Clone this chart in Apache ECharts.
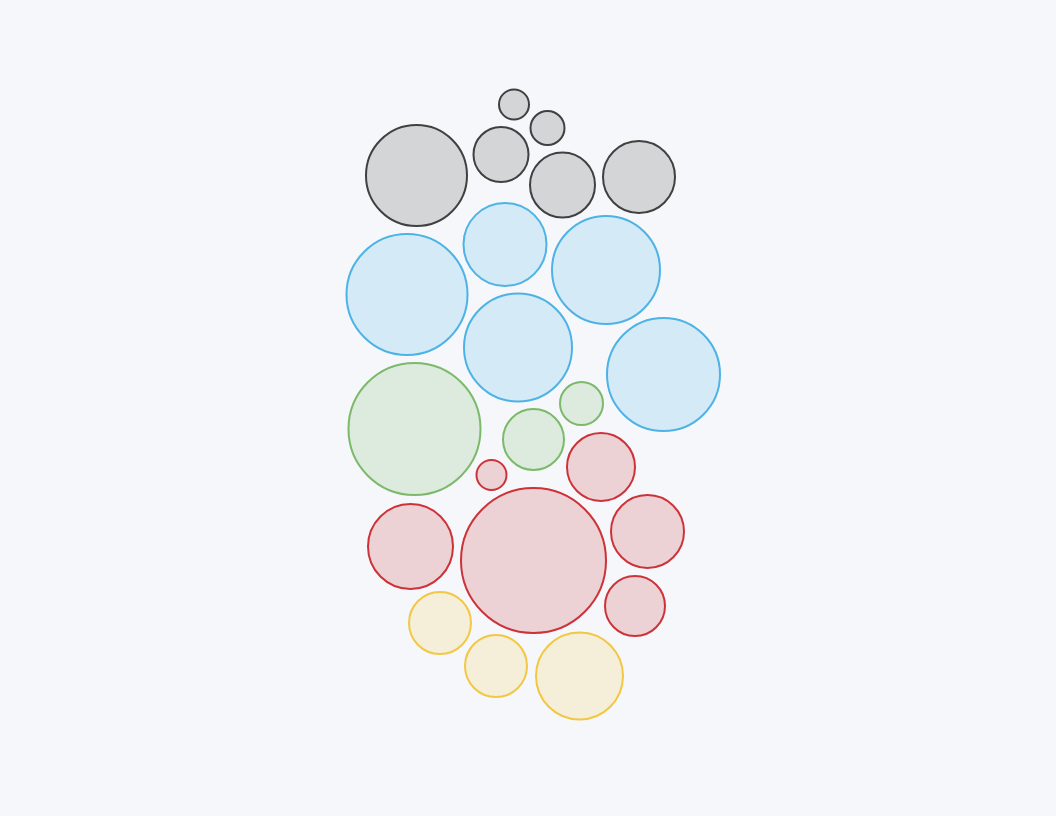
<!DOCTYPE html>
<html>
<head>
<meta charset="utf-8">
<style>
  html, body { margin: 0; padding: 0; background: #f5f7fa; }
  #chart { width: 1056px; height: 816px; }
</style>
<script src="https://cdn.jsdelivr.net/npm/echarts@6/dist/echarts.min.js"></script>
</head>
<body>
<div id="chart"></div>
<script>
// Bubble groups: [x, y, radius]
const grayBubbles = [
  [416.5, 175.5, 51.5],
  [514, 104.5, 16],
  [547.5, 128, 18],
  [501, 154.5, 28.5],
  [562.5, 185, 33.5],
  [639, 177, 37]
];
const blueBubbles = [
  [407, 294.5, 61.5],
  [505, 244.5, 42.5],
  [606, 270, 55],
  [518, 347.5, 55],
  [663.5, 374.5, 57.5]
];
const greenBubbles = [
  [414.5, 429, 67],
  [533.5, 439.5, 31.5],
  [581.5, 403.5, 22.5]
];
const redBubbles = [
  [491.5, 475, 16],
  [601, 467, 35],
  [410.5, 546.5, 43.5],
  [533.5, 560.5, 73.5],
  [647.5, 531.5, 37.5],
  [635, 606, 31]
];
const yellowBubbles = [
  [440, 623, 32],
  [496, 666, 32],
  [579.5, 676, 44.5]
];

const groupNames = ['Gray', 'Blue', 'Green', 'Red', 'Yellow'];
const groupData = [grayBubbles, blueBubbles, greenBubbles, redBubbles, yellowBubbles];
const fills = ['#d4d5d7', '#d4eaf7', '#dcebdd', '#ecd1d5', '#f5eed8'];
const strokes = ['#404040', '#4db3e6', '#7cb96a', '#cc3339', '#f2c744'];

const chart = echarts.init(document.getElementById('chart'));
chart.setOption({
  backgroundColor: '#f5f7fa',
  animation: false,
  grid: { left: 0, right: 0, top: 0, bottom: 0 },
  xAxis: { type: 'value', min: 0, max: 1056, show: false },
  yAxis: { type: 'value', min: 0, max: 816, inverse: true, show: false },
  series: groupData.map((d, i) => ({
    name: groupNames[i],
    type: 'scatter',
    data: d,
    symbol: 'circle',
    symbolSize: v => v[2] * 2 - 2,
    itemStyle: { color: fills[i], borderColor: strokes[i], borderWidth: 2, opacity: 1 },
    emphasis: { disabled: true }
  }))
});
</script>
</body>
</html>
